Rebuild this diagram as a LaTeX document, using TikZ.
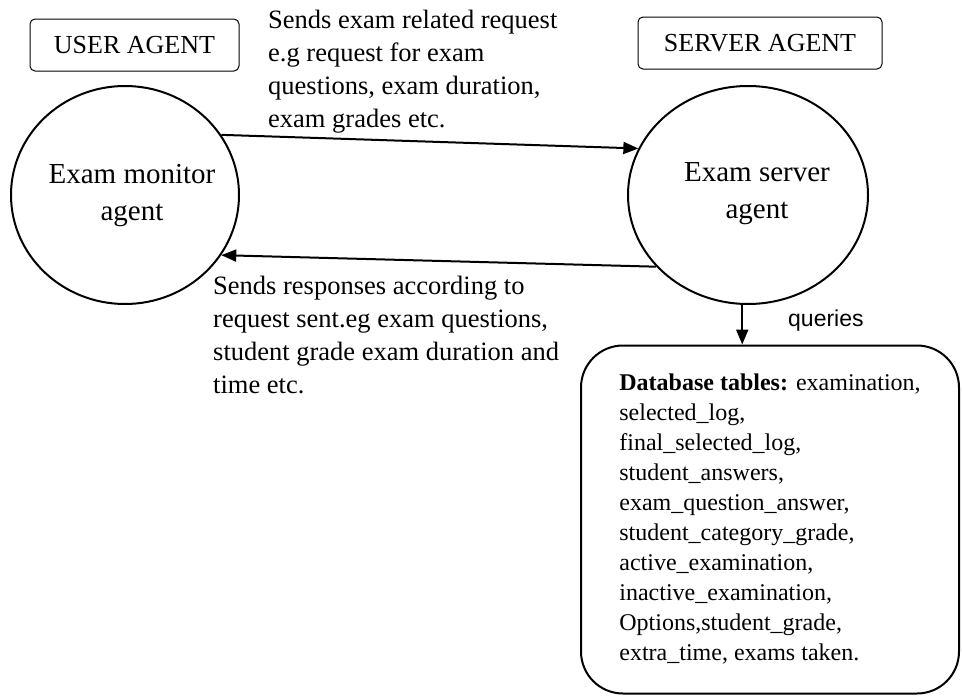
\documentclass[tikz,border=0pt]{standalone}
\usepackage{fontspec}
\setmainfont{Liberation Serif}
\newfontfamily\labelsans{Liberation Sans}
\usetikzlibrary{shapes.geometric,arrows.meta}

\begin{document}
\begin{tikzpicture}[x=1pt,y=-1pt,
  agentbody/.style={draw,line width=2pt,ellipse,inner sep=0pt},
  agenttext/.style={inner sep=0pt,align=center,font=\fontsize{29}{37}\selectfont},
  rolebox/.style={draw,line width=1pt,rounded corners=5pt,minimum height=52pt,inner sep=0pt,font=\fontsize{26}{32}\selectfont},
  msgtext/.style={inner sep=0pt,align=left,anchor=west,font=\fontsize{26.5}{33}\selectfont},
  flow/.style={line width=2pt,-{Triangle[length=15pt,width=12pt]}},
  tablebox/.style={draw,line width=2pt,rounded corners=42pt,minimum width=378pt,minimum height=348pt,inner sep=0pt,align=left,font=\fontsize{24}{30}\selectfont}]

\useasboundingbox (0,0) rectangle (962,696);

% role headers
\node[rolebox,minimum width=209pt] (ubox) at (134.5,45) {USER AGENT};
\node[rolebox,minimum width=244pt] (sbox) at (760,43) {SERVER AGENT};

% the two agents
\node[agentbody,minimum width=228pt,minimum height=218pt] (um) at (125,195) {};
\node[agenttext] (umt) at (132,196) {Exam monitor\\agent};
\node[agentbody,minimum width=240pt,minimum height=218pt] (sa) at (748,195) {};
\node[agenttext] (sat) at (757,194) {Exam server\\agent};

% database
\node[tablebox] (db) at (770,519.5) {\textbf{Database tables:} examination,\\
selected\_log,\\
final\_selected\_log,\\
student\_answers,\\
exam\_question\_answer,\\
student\_category\_grade,\\
active\_examination,\\
inactive\_examination,\\
Options,student\_grade,\\
extra\_time, exams taken.};

% message labels
\node[msgtext] (req) at (268,71.5) {Sends exam related request\\
e.g request for exam\\
questions, exam duration,\\
exam grades etc.};
\node[msgtext] (resp) at (213,335) {Sends responses according to\\
request sent.eg exam questions,\\
student grade exam duration and\\
time etc.};
\node[inner sep=0pt,anchor=west,font=\labelsans\fontsize{23}{28}\selectfont] (q) at (788,321) {queries};

% connectors
\draw[flow] (um.32) -- (sa.157);
\draw[flow] (sa.218.7) -- (um.-32.7);
\draw[flow] (sa.267) -- (sa.267 |- db.north);

\end{tikzpicture}
\end{document}
